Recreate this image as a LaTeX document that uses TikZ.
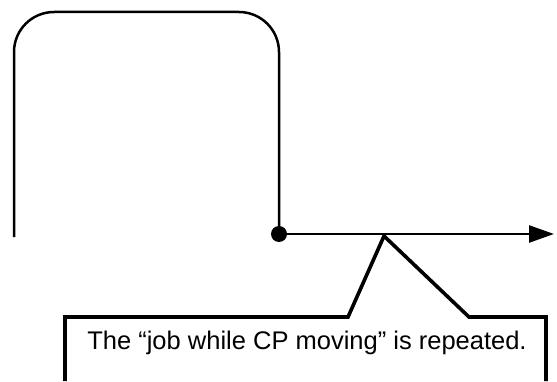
\documentclass[tikz,border=0pt]{standalone}
\usepackage{fontspec}
\setmainfont{Liberation Sans}
\usepackage{tikz}
\usetikzlibrary{arrows.meta, positioning, calc}

\begin{document}
\begin{tikzpicture}[x=1pt, y=1pt,
        loop/.style={line width=2.5pt, rounded corners=40pt},
        pivot/.style={circle, fill=black, inner sep=0pt, minimum size=16pt},
        arrow/.style={-{Triangle[length=25pt, width=17pt]}, line width=2.5pt},
        callout/.style={line width=3.6pt, line join=miter},
        note/.style={font=\fontsize{25.5}{30}\selectfont, inner sep=0pt}
    ]
    \useasboundingbox (0,0) rectangle (557,381);

    % --- 1. LOOP PATH ---
    \coordinate (loop_start) at (14,144);
    \node [pivot] (pivot) at (279,147) {};
    \draw [loop] (loop_start) -- (14,369) -- (279,369) -- (pivot.center);

    % --- 2. TIME AXIS ---
    \coordinate (axis_end) at (554,147);
    \draw [arrow] (pivot.center) -- (axis_end);

    % --- 3. CALLOUT ---
    \coordinate (tip) at (384,145);
    \node [note] (msg) at (307,38) {The “job while CP moving” is repeated.};
    \draw [callout] (65,0) |- (348,64) -- (tip) -- (469,64) -| (546,0);

\end{tikzpicture}
\end{document}
